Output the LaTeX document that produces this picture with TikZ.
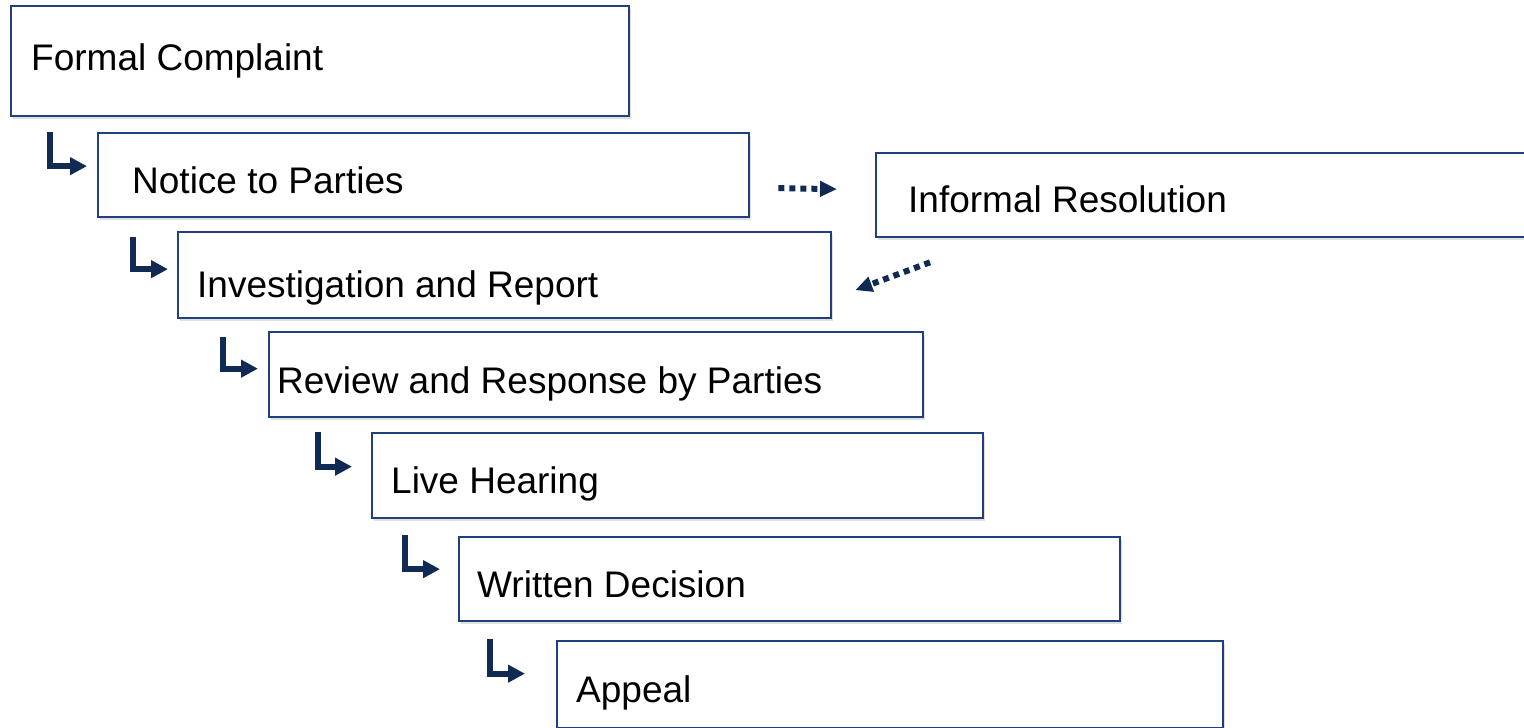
\documentclass[tikz,border=0pt]{standalone}
\usepackage{fontspec}
\setmainfont{Liberation Sans}
\usetikzlibrary{arrows.meta,shadows}

\begin{document}
\begin{tikzpicture}[x=1pt, y=1pt,
    stage/.style={draw=cEdge, line width=2.3pt, fill=white, inner sep=0pt,
      anchor=north west,
      drop shadow={shadow xshift=2pt, shadow yshift=-2.5pt, fill=black, opacity=0.12}},
    txt/.style={anchor=base west, inner sep=0pt, font=\fontsize{37}{44}\selectfont},
    elbow/.style={cArrow, line width=6pt, line join=miter,
      -{Triangle[length=17pt, width=17pt]}},
    side/.style={cArrow, line width=6pt, dash pattern=on 6pt off 5pt,
      -{Triangle[length=17pt, width=15pt]}}]
  \definecolor{cEdge}{RGB}{31, 64, 122}
  \definecolor{cArrow}{RGB}{17, 42, 84}

  \useasboundingbox (0,0) rectangle (1524,-728);

  % boxes
  \node[stage, minimum width=618pt, minimum height=110pt] (fc) at (10,-5) {};
  \node[stage, minimum width=651pt, minimum height=84pt] (np) at (97,-132) {};
  \node[stage, minimum width=665pt, minimum height=84pt] (ir) at (875,-152) {};
  \node[stage, minimum width=653pt, minimum height=86pt] (ia) at (177,-231) {};
  \node[stage, minimum width=654pt, minimum height=85pt] (rr) at (268,-331) {};
  \node[stage, minimum width=611pt, minimum height=85pt] (lh) at (371,-432) {};
  \node[stage, minimum width=661pt, minimum height=84pt] (wd) at (458,-536) {};
  \node[stage, minimum width=666pt, minimum height=87pt] (ap) at (556,-640) {};

  % texts
  \node[txt] (fc-t) at (31,-70) {Formal Complaint};
  \node[txt] (np-t) at (132,-193) {Notice to Parties};
  \node[txt] (ir-t) at (908,-212) {Informal Resolution};
  \node[txt] (ia-t) at (197,-297) {Investigation and Report};
  \node[txt] (rr-t) at (277,-393) {Review and Response by Parties};
  \node[txt] (lh-t) at (391,-493) {Live Hearing};
  \node[txt] (wd-t) at (477,-597) {Written Decision};
  \node[txt] (ap-t) at (576,-702) {Appeal};

  % step arrows
  \draw[elbow] ([xshift=40pt, yshift=-15pt]fc.south west) |- ([xshift=-10pt, yshift=9pt]np.west);
  \draw[elbow] ([xshift=36pt, yshift=-19pt]np.south west) |- ([xshift=-9pt, yshift=6pt]ia.west);
  \draw[elbow] ([xshift=46pt, yshift=-18pt]ia.south west) |- ([xshift=-10pt, yshift=6pt]rr.west);
  \draw[elbow] ([xshift=50pt, yshift=-14pt]rr.south west) |- ([xshift=-19pt, yshift=9pt]lh.west);
  \draw[elbow] ([xshift=34pt, yshift=-16pt]lh.south west) |- ([xshift=-18pt, yshift=10pt]wd.west);
  \draw[elbow] ([xshift=32pt, yshift=-17pt]wd.south west) |- ([xshift=-31pt, yshift=11pt]ap.west);

  % informal resolution loop
  \draw[side] ([xshift=28pt, yshift=-13pt]np.east) -- ([xshift=-38pt, yshift=6pt]ir.west);
  \draw[side] ([xshift=55pt, yshift=-24pt]ir.south west) -- ([xshift=23pt, yshift=-15pt]ia.east);
\end{tikzpicture}
\end{document}
